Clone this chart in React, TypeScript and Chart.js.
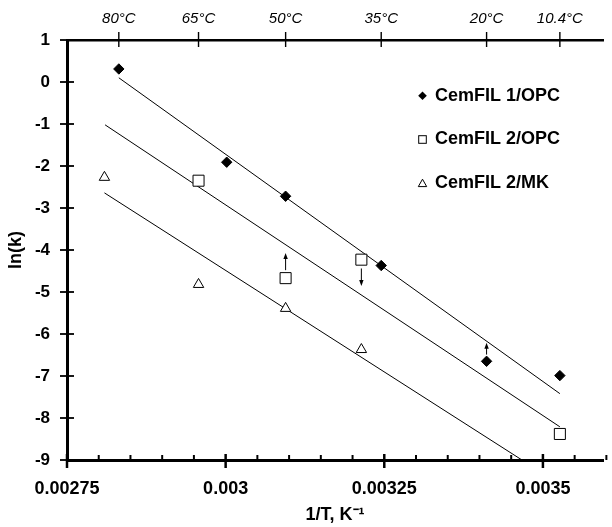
import React, { useEffect, useRef } from "react";
import { Chart, registerables } from "chart.js";

Chart.register(...registerables);

// ---------------- data ----------------
const xMin = 0.00275;
const xMax = 0.003595;
const xMajorTicks = [0.00275, 0.003, 0.00325, 0.0035];
const xMajorLabels = ["0.00275", "0.003", "0.00325", "0.0035"];
const xMinorStep = 0.00005;
const yMin = -9;
const yMax = 1;
const topTempC = [80, 65, 50, 35, 20, 10.4];
const topTempLabels = ["80°C", "65°C", "50°C", "35°C", "20°C", "10.4°C"];

const cemfil1OpcX = [0.0028317, 0.0030017, 0.0030945, 0.0032452, 0.0034112, 0.0035267];
const cemfil1OpcY = [0.31, -1.91, -2.72, -4.37, -6.65, -6.99];
const cemfil2OpcX = [0.0029573, 0.0030945, 0.0032139, 0.0035267];
const cemfil2OpcY = [-2.35, -4.67, -4.23, -8.38];
const cemfil2MkX = [0.002809, 0.0029573, 0.0030945, 0.0032139];
const cemfil2MkY = [-2.27, -4.82, -5.39, -6.37];

const fit1X = [0.0028317, 0.0035267];
const fit1Y = [0.1, -7.42];
const fit2X = [0.00281, 0.0035267];
const fit2Y = [-1.02, -8.21];
const fit3X = [0.002809, 0.003467];
const fit3Y = [-2.64, -9.0];

const arrowX = [0.0030945, 0.0032139, 0.0034112];
const arrowFromY = [-4.48, -4.44, -6.49];
const arrowToY = [-4.07, -4.86, -6.21];

const legendLabels = ["CemFIL 1/OPC", "CemFIL 2/OPC", "CemFIL 2/MK"];

const FONT = "'Liberation Sans', Arial, Helvetica, sans-serif";

const zip = (xs: number[], ys: number[]) => xs.map((x, i) => ({ x, y: ys[i] }));

const decorPlugin = {
  id: "decor",
  afterDraw(chart: any) {
    const { ctx, chartArea } = chart;
    const xs = chart.scales.x;
    const xt = chart.scales.x2;
    const ys = chart.scales.y;
    const seg = (x1: number, y1: number, x2: number, y2: number) => {
      ctx.beginPath();
      ctx.moveTo(x1, y1);
      ctx.lineTo(x2, y2);
      ctx.stroke();
    };
    ctx.save();
    ctx.strokeStyle = "#000";
    ctx.fillStyle = "#000";
    const yb = chartArea.bottom;
    // bottom minor ticks
    ctx.lineWidth = 2;
    const nSteps = Math.round((xMax - xMin) / xMinorStep);
    for (let i = 1; i <= nSteps; i++) {
      if (i % 5 === 0) continue;
      const px = xs.getPixelForValue(xMin + i * xMinorStep);
      seg(px, yb - 5, px, yb);
    }
    // bottom major ticks
    ctx.lineWidth = 2.5;
    xs.ticks.forEach((t: any) => {
      const px = xs.getPixelForValue(t.value);
      seg(px, yb - 6, px, yb + 8);
    });
    // y ticks
    ctx.lineWidth = 1.8;
    ys.ticks.forEach((t: any) => {
      const py = ys.getPixelForValue(t.value);
      seg(chartArea.left - 7, py, chartArea.left + 7, py);
    });
    // top ticks
    ctx.lineWidth = 1.4;
    xt.ticks.forEach((t: any) => {
      const px = xt.getPixelForValue(t.value);
      seg(px, chartArea.top - 8, px, chartArea.top + 7);
    });
    // arrows
    ctx.lineWidth = 1;
    arrowX.forEach((xv, i) => {
      const px = xs.getPixelForValue(xv);
      const y1 = ys.getPixelForValue(arrowFromY[i]);
      const y2 = ys.getPixelForValue(arrowToY[i]);
      const dir = y2 < y1 ? -1 : 1;
      seg(px, y1, px, y2 - dir * 4);
      ctx.beginPath();
      ctx.moveTo(px, y2);
      ctx.lineTo(px - 2.2, y2 - dir * 6);
      ctx.lineTo(px + 2.2, y2 - dir * 6);
      ctx.closePath();
      ctx.fill();
    });
    // legend
    const lx = 422.5;
    const ly = [95.7, 139.5, 183.5];
    ctx.font = "bold 18px " + FONT;
    ctx.textBaseline = "middle";
    ctx.textAlign = "left";
    legendLabels.forEach((lab, i) => {
      ctx.fillStyle = "#000";
      ctx.fillText(lab, 435, ly[i]);
    });
    // diamond
    ctx.beginPath();
    ctx.moveTo(lx, ly[0] - 4.3);
    ctx.lineTo(lx + 4.3, ly[0]);
    ctx.lineTo(lx, ly[0] + 4.3);
    ctx.lineTo(lx - 4.3, ly[0]);
    ctx.closePath();
    ctx.fill();
    // square
    ctx.lineWidth = 1;
    ctx.strokeRect(lx - 3.8, ly[1] - 3.8, 7.6, 7.6);
    // triangle
    ctx.beginPath();
    ctx.moveTo(lx, ly[2] - 4.3);
    ctx.lineTo(lx + 4.2, ly[2] + 3.1);
    ctx.lineTo(lx - 4.2, ly[2] + 3.1);
    ctx.closePath();
    ctx.stroke();
    ctx.restore();
  },
};

export default function App() {
  const ref = useRef<HTMLCanvasElement | null>(null);
  useEffect(() => {
    document.body.style.margin = "0";
    if (!ref.current) return;
    Chart.defaults.font.family = FONT;
    Chart.defaults.color = "#000";
    const chart = new Chart(ref.current, {
      type: "scatter",
      data: {
        datasets: [
          {
            label: legendLabels[0],
            data: zip(cemfil1OpcX, cemfil1OpcY),
            pointStyle: "rectRot",
            pointRadius: 5.2,
            backgroundColor: "#000",
            borderColor: "#000",
            borderWidth: 1,
            order: 1,
          },
          {
            label: legendLabels[1],
            data: zip(cemfil2OpcX, cemfil2OpcY),
            pointStyle: "rect",
            pointRadius: 7.8,
            backgroundColor: "#fff",
            borderColor: "#000",
            borderWidth: 1,
            order: 1,
          },
          {
            label: legendLabels[2],
            data: zip(cemfil2MkX, cemfil2MkY),
            pointStyle: "triangle",
            pointRadius: 6,
            backgroundColor: "#fff",
            borderColor: "#000",
            borderWidth: 1,
            order: 1,
          },
          {
            label: "fit1",
            data: zip(fit1X, fit1Y),
            showLine: true,
            pointRadius: 0,
            borderColor: "#000",
            borderWidth: 1,
            order: 2,
          },
          {
            label: "fit2",
            data: zip(fit2X, fit2Y),
            showLine: true,
            pointRadius: 0,
            borderColor: "#000",
            borderWidth: 1,
            order: 2,
          },
          {
            label: "fit3",
            data: zip(fit3X, fit3Y),
            showLine: true,
            pointRadius: 0,
            borderColor: "#000",
            borderWidth: 1,
            order: 2,
          },
        ],
      },
      options: {
        animation: false,
        responsive: false,
        events: [],
        layout: { padding: 0 },
        plugins: {
          legend: { display: false },
          tooltip: { enabled: false },
        },
        scales: {
          x: {
            type: "linear",
            position: "bottom",
            min: xMin,
            max: xMax,
            afterBuildTicks: (s: any) => {
              s.ticks = xMajorTicks.map((v) => ({ value: v }));
            },
            afterFit: (s: any) => {
              s.height = 67;
            },
            ticks: {
              padding: 18,
              maxRotation: 0,
              autoSkip: false,
              font: { size: 18, weight: "bold" },
              callback: (_v: any, i: number) => xMajorLabels[i],
            },
            grid: { display: false, drawTicks: false },
            border: { display: true, color: "#000", width: 3 },
            title: {
              display: true,
              text: "1/T, K⁻¹",
              font: { size: 18, weight: "bold" },
              padding: { top: 0, bottom: 1 },
            },
          },
          x2: {
            type: "linear",
            position: "top",
            min: xMin,
            max: xMax,
            afterBuildTicks: (s: any) => {
              s.ticks = topTempC.map((t) => ({ value: 1 / (t + 273.15) }));
            },
            afterFit: (s: any) => {
              s.height = 40;
            },
            ticks: {
              padding: 12,
              maxRotation: 0,
              autoSkip: false,
              font: { size: 15, style: "italic", weight: "normal" },
              callback: (_v: any, i: number) => topTempLabels[i],
            },
            grid: { display: false, drawTicks: false },
            border: { display: true, color: "#000", width: 2.5 },
          },
          y: {
            type: "linear",
            position: "left",
            min: yMin,
            max: yMax,
            afterFit: (s: any) => {
              s.width = 67;
            },
            ticks: {
              stepSize: 1,
              padding: 17,
              font: { size: 17, weight: "bold" },
            },
            grid: { display: false, drawTicks: false },
            border: { display: true, color: "#000", width: 3 },
            title: {
              display: true,
              text: "ln(k)",
              font: { size: 18, weight: "bold" },
              padding: { top: 5, bottom: 0 },
            },
          },
        },
      },
      plugins: [decorPlugin],
    } as any);
    return () => chart.destroy();
  }, []);
  return <canvas ref={ref} width={612} height={527} style={{ display: "block" }} />;
}
